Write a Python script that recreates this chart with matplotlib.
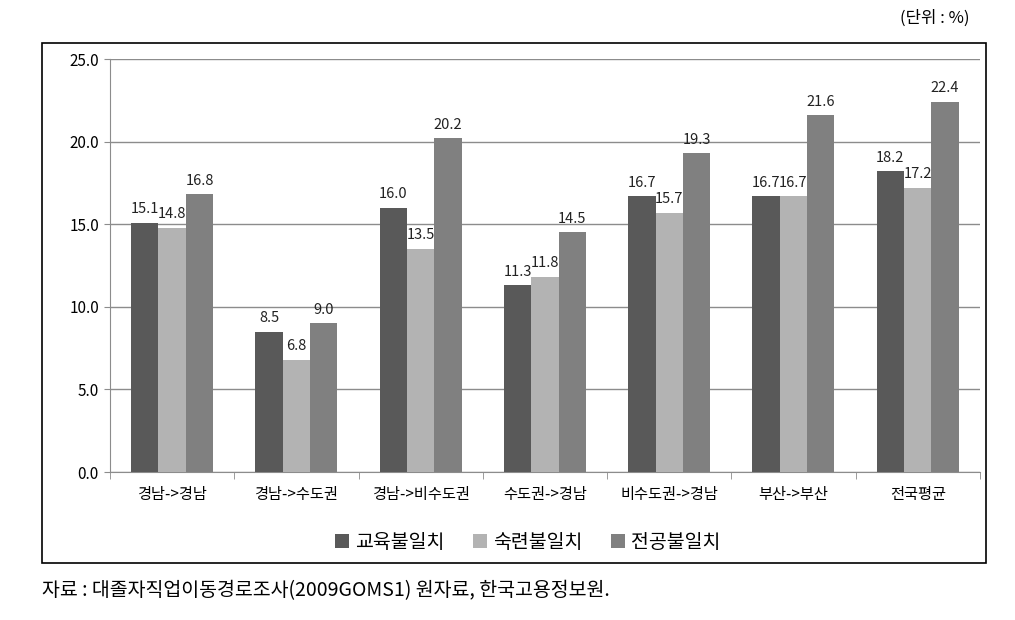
import numpy as np
import matplotlib.pyplot as plt
from matplotlib.patches import Rectangle

plt.rcParams['font.family'] = ['Noto Sans CJK KR', 'DejaVu Sans']

# Data
categories = ["경남->경남", "경남->수도권", "경남->비수도권", "수도권->경남",
              "비수도권->경남", "부산->부산", "전국평균"]
series_names = ["교육불일치", "숙련불일치", "전공불일치"]
edu = [15.1, 8.5, 16.0, 11.3, 16.7, 16.7, 18.2]
skill = [14.8, 6.8, 13.5, 11.8, 15.7, 16.7, 17.2]
major = [16.8, 9.0, 20.2, 14.5, 19.3, 21.6, 22.4]
colors = ["#595959", "#b3b3b3", "#808080"]

fig = plt.figure(figsize=(10.15, 6.2), dpi=100)
ax = fig.add_axes([0.1084, 0.2387, 0.857, 0.6661])

# outer frame
fig.patches.append(Rectangle((0.0414, 0.0919), 0.93, 0.8387, transform=fig.transFigure,
                             fill=False, edgecolor="black", linewidth=1.2))

x = np.arange(len(categories))
w = 0.22
for i, (vals, name) in enumerate(zip([edu, skill, major], series_names)):
    pos = x + (i - 1) * w
    ax.bar(pos, vals, width=w, color=colors[i], label=name, zorder=3)
    for p, v in zip(pos, vals):
        ax.text(p, v + 0.4, f"{v:.1f}", ha="center", va="bottom", fontsize=10.5, color="#222222")

ax.set_xlim(-0.5, len(categories) - 0.5)
ax.set_ylim(0, 25)
ax.set_yticks(np.arange(0, 25.1, 5))
ax.set_yticklabels([f"{t:.1f}" for t in np.arange(0, 25.1, 5)], fontsize=11)
ax.grid(axis="y", color="#8c8c8c", linewidth=1, zorder=0)
ax.set_xticks(x)
ax.set_xticklabels(categories, fontsize=11)
ax.set_xticks(np.arange(-0.5, len(categories), 1), minor=True)
ax.tick_params(axis="x", which="major", length=0, pad=10)
ax.tick_params(axis="x", which="minor", length=5, color="#8c8c8c")
ax.tick_params(axis="y", length=4, color="#8c8c8c", pad=4)
for s in ["top", "right"]:
    ax.spines[s].set_visible(False)
ax.spines["left"].set_color("#8c8c8c")
ax.spines["bottom"].set_color("#8c8c8c")

ax.legend(loc="center", bbox_to_anchor=(0.48, -0.17), ncol=3, frameon=False,
          fontsize=14, handlelength=0.7, handleheight=0.7, handletextpad=0.3,
          columnspacing=1.5)

fig.text(0.955, 0.97, "(단위 : %)", ha="right", va="center", fontsize=12)
fig.text(0.0414, 0.048, "자료 : 대졸자직업이동경로조사(2009GOMS1) 원자료, 한국고용정보원.",
         ha="left", va="center", fontsize=14)

fig.savefig("out.png", dpi=100)
